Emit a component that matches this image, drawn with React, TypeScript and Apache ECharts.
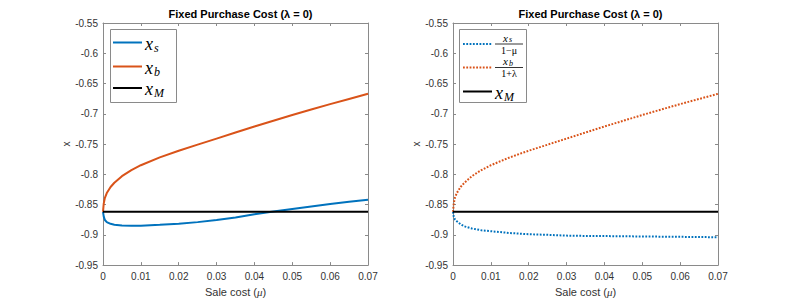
import React, { useEffect, useRef } from "react";
import * as echarts from "echarts";

// Sale cost (mu) grid shared by all curves
const mu = [0, 0.0002, 0.0005, 0.001, 0.002, 0.003, 0.005, 0.0075, 0.01, 0.015, 0.02, 0.025, 0.03, 0.035, 0.04, 0.045, 0.05, 0.055, 0.06, 0.065, 0.07];
// Left panel
const xs = [-0.862, -0.87, -0.8755, -0.879, -0.8818, -0.8832, -0.8845, -0.885, -0.8848, -0.8835, -0.8815, -0.879, -0.8755, -0.8715, -0.866, -0.8615, -0.8572, -0.853, -0.849, -0.8455, -0.842];
const xb = [-0.862, -0.848, -0.839, -0.831, -0.821, -0.814, -0.803, -0.793, -0.785, -0.772, -0.761, -0.751, -0.741, -0.731, -0.721, -0.7115, -0.702, -0.693, -0.684, -0.6755, -0.667];
const xMRange = [0, 0.07];
const xM = [-0.862, -0.862];
// Right panel
const xsAdj = [-0.862, -0.87, -0.8745, -0.8775, -0.8825, -0.886, -0.8895, -0.8925, -0.894, -0.897, -0.899, -0.9, -0.9013, -0.9018, -0.902, -0.9024, -0.9027, -0.903, -0.9033, -0.9036, -0.904];
const xbAdj = xb;

const xTicks = { min: 0, max: 0.07, interval: 0.01 };
const yTicks = { min: -0.95, max: -0.55, interval: 0.05 };
const titleText = "Fixed Purchase Cost (\u03bb = 0)";

const BLUE = "#0072BD";
const ORANGE = "#D95319";
const AXIS = "#8a8a8a";
const TXT = "#333";
const SANS = "Liberation Sans, Arial, sans-serif";
const SERIF = '"Liberation Serif", "Times New Roman", serif';

function pairs(xv: number[], yv: number[]) {
  return xv.map((x, i) => [x, yv[i]]);
}

const grids = [
  { left: 103, top: 23, width: 265, height: 245 },
  { left: 453, top: 23, width: 265, height: 245 },
];

function mathText(x: number, y: number, base: string, sub: string, size: number, subSize: number, subDx: number, subDy: number) {
  return [
    { type: "text", x, y, style: { text: base, font: `italic ${size}px ${SERIF}`, lineHeight: size * 0.8, fill: "#000", align: "left", verticalAlign: "middle" } },
    { type: "text", x: x + subDx, y: y + subDy, style: { text: sub, font: `italic ${subSize}px ${SERIF}`, lineHeight: subSize * 0.8, fill: "#000", align: "left", verticalAlign: "middle" } },
  ];
}

function fraction(cx: number, yBar: number, num: [string, string], den: string) {
  const els: any[] = [];
  els.push(...mathText(cx - 6, yBar - 6.5, num[0], num[1], 11, 8, 6, 2));
  els.push({ type: "line", shape: { x1: cx - 14, y1: yBar, x2: cx + 14, y2: yBar }, style: { stroke: "#000", lineWidth: 0.8 } });
  els.push({ type: "text", x: cx, y: yBar + 6, style: { text: den, font: `10px ${SERIF}`, lineHeight: 9, fill: "#000", align: "center", verticalAlign: "middle" } });
  return els;
}

export default function App() {
  const ref = useRef<HTMLDivElement>(null);
  useEffect(() => {
    document.body.style.margin = "0";
    const chart = echarts.init(ref.current!, undefined, { renderer: "svg" });

    const xAxes: any[] = [];
    const yAxes: any[] = [];
    grids.forEach((_, g) => {
      xAxes.push({
        type: "value", gridIndex: g, ...xTicks, position: "bottom",
        name: "Sale cost ({i|\u03bc})", nameLocation: "middle", nameGap: 16,
        nameTextStyle: { fontFamily: SANS, fontSize: 11, color: TXT, rich: { i: { fontFamily: SERIF, fontStyle: "italic", fontSize: 11, color: TXT } } },
        axisLine: { show: true, onZero: false, lineStyle: { color: AXIS, width: 1 } },
        axisTick: { show: true, inside: true, length: 3, lineStyle: { color: AXIS } },
        axisLabel: { show: true, margin: 6, fontFamily: SANS, fontSize: 10, color: TXT, formatter: (v: number) => String(+v.toFixed(2)) },
        splitLine: { show: false },
      });
      xAxes.push({
        type: "value", gridIndex: g, ...xTicks, position: "top",
        axisLine: { show: true, onZero: false, lineStyle: { color: AXIS, width: 1 } },
        axisTick: { show: true, inside: true, length: 3, lineStyle: { color: AXIS } },
        axisLabel: { show: false }, splitLine: { show: false },
      });
      yAxes.push({
        type: "value", gridIndex: g, ...yTicks, position: "left",
        name: "x", nameLocation: "middle", nameGap: 24, nameRotate: 90,
        nameTextStyle: { fontFamily: SANS, fontSize: 10, color: TXT },
        axisLine: { show: true, onZero: false, lineStyle: { color: AXIS, width: 1 } },
        axisTick: { show: true, inside: true, length: 3, lineStyle: { color: AXIS } },
        axisLabel: { show: true, margin: 5, fontFamily: SANS, fontSize: 10, color: TXT, formatter: (v: number) => String(+v.toFixed(2)) },
        splitLine: { show: false },
      });
      yAxes.push({
        type: "value", gridIndex: g, ...yTicks, position: "right",
        axisLine: { show: true, onZero: false, lineStyle: { color: AXIS, width: 1 } },
        axisTick: { show: true, inside: true, length: 3, lineStyle: { color: AXIS } },
        axisLabel: { show: false }, splitLine: { show: false },
      });
    });

    const base = { type: "line", showSymbol: false, symbol: "none", smooth: false, silent: true };
    const series: any[] = [
      { ...base, name: "xs", xAxisIndex: 0, yAxisIndex: 0, data: pairs(mu, xs), lineStyle: { color: BLUE, width: 2 } },
      { ...base, name: "xb", xAxisIndex: 0, yAxisIndex: 0, data: pairs(mu, xb), lineStyle: { color: ORANGE, width: 2 } },
      { ...base, name: "xM", xAxisIndex: 0, yAxisIndex: 0, data: pairs(xMRange, xM), lineStyle: { color: "#000", width: 2 } },
      { ...base, name: "xs/(1-mu)", xAxisIndex: 2, yAxisIndex: 2, data: pairs(mu, xsAdj), lineStyle: { color: BLUE, width: 2, type: [1.8, 1.5] } },
      { ...base, name: "xb/(1+lambda)", xAxisIndex: 2, yAxisIndex: 2, data: pairs(mu, xbAdj), lineStyle: { color: ORANGE, width: 2, type: [1.8, 1.5] } },
      { ...base, name: "xM ", xAxisIndex: 2, yAxisIndex: 2, data: pairs(xMRange, xM), lineStyle: { color: "#000", width: 2 } },
    ];

    // Legends
    const L: any[] = [];
    // left legend
    L.push({ type: "rect", shape: { x: 110.5, y: 29.5, width: 66, height: 73 }, style: { fill: "#fff", stroke: AXIS, lineWidth: 1 }, z: 10 });
    const leftRows = [
      { y: 42.5, color: BLUE, sub: "s" },
      { y: 66.5, color: ORANGE, sub: "b" },
      { y: 88, color: "#000", sub: "M" },
    ];
    leftRows.forEach((r) => {
      L.push({ type: "line", shape: { x1: 113, y1: r.y, x2: 142, y2: r.y }, style: { stroke: r.color, lineWidth: 2 }, z: 11 });
      L.push(...mathText(145, r.y + 1, "x", r.sub, 18, 12, 9, 4).map((e) => ({ ...e, z: 11 })));
    });
    // right legend
    L.push({ type: "rect", shape: { x: 459.5, y: 29.5, width: 67, height: 73 }, style: { fill: "#fff", stroke: AXIS, lineWidth: 1 }, z: 10 });
    L.push({ type: "line", shape: { x1: 463, y1: 44, x2: 492, y2: 44 }, style: { stroke: BLUE, lineWidth: 2, lineDash: [1.8, 1.5] }, z: 11 });
    L.push(...fraction(509, 44, ["x", "s"], "1\u2212\u03bc").map((e) => ({ ...e, z: 11 })));
    L.push({ type: "line", shape: { x1: 463, y1: 67.5, x2: 492, y2: 67.5 }, style: { stroke: ORANGE, lineWidth: 2, lineDash: [1.8, 1.5] }, z: 11 });
    L.push(...fraction(509, 67.5, ["x", "b"], "1+\u03bb").map((e) => ({ ...e, z: 11 })));
    L.push({ type: "line", shape: { x1: 463, y1: 91.5, x2: 492, y2: 91.5 }, style: { stroke: "#000", lineWidth: 2 }, z: 11 });
    L.push(...mathText(495, 92.5, "x", "M", 18, 12, 9, 4).map((e) => ({ ...e, z: 11 })));

    chart.setOption({
      animation: false,
      backgroundColor: "#fff",
      title: grids.map((g) => ({
        text: titleText, left: g.left + g.width / 2, top: 3, textAlign: "center",
        textStyle: { fontFamily: SANS, fontSize: 11, fontWeight: "bold", color: "#000" },
      })),
      grid: grids.map((g) => ({ ...g, containLabel: false })),
      xAxis: xAxes,
      yAxis: yAxes,
      series,
      graphic: { elements: L },
    });
    return () => chart.dispose();
  }, []);
  return <div ref={ref} style={{ width: 793, height: 302 }} />;
}
